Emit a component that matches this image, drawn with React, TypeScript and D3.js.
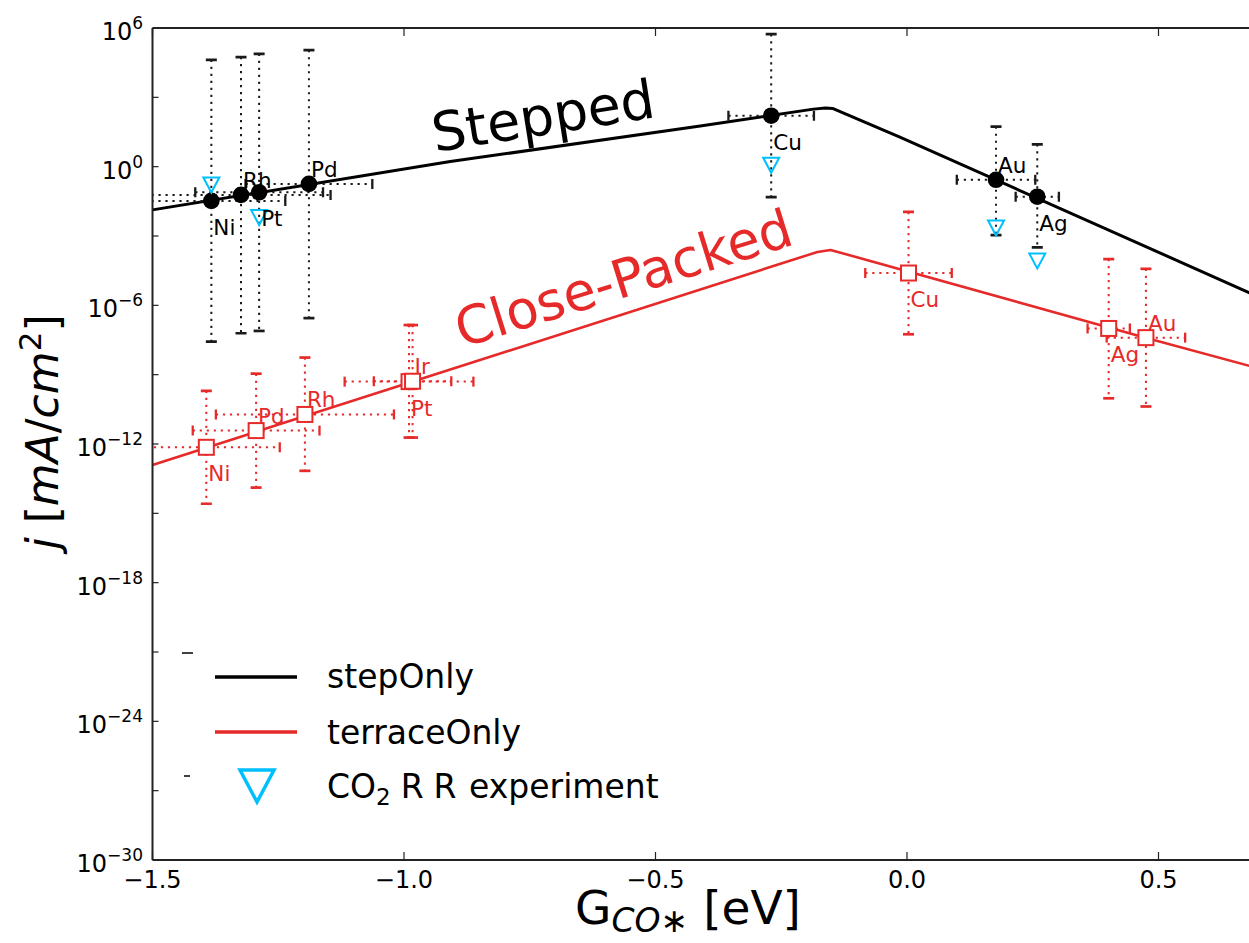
import React from 'react';
import * as d3 from 'd3';

// ---------- data ----------
// stepped (black circles)
const metalsStep = ['Ni', 'Rh', 'Pt', 'Pd', 'Cu', 'Au', 'Ag'];
const gStep = [-1.383, -1.324, -1.288, -1.189, -0.27, 0.177, 0.259];
const jStep = [3.3e-2, 6.0e-2, 7.8e-2, 1.8e-1, 1.6e2, 2.7e-1, 5.0e-2];
const jStepHigh = [4.2e4, 5.5e4, 7.6e4, 1.1e5, 5.4e5, 54, 9.3];
const jStepLow = [2.7e-8, 6.2e-8, 7.8e-8, 2.8e-7, 4.8e-2, 1.1e-3, 3.2e-4];
const gStepErr = [0.147, 0.178, 0.127, 0.126, 0.085, 0.078, 0.043];
const stepLabelSide = ['below', 'above', 'below', 'above', 'below', 'above', 'below'];

// close-packed (red squares)
const metalsTerrace = ['Ni', 'Pd', 'Rh', 'Pt', 'Ir', 'Cu', 'Ag', 'Au'];
const gTerrace = [-1.393, -1.294, -1.197, -0.99, -0.983, 0.003, 0.401, 0.475];
const jTerrace = [7.2e-13, 3.8e-12, 1.9e-11, 5.0e-10, 5.2e-10, 2.5e-5, 1.0e-7, 4.0e-8];
const jTerraceHigh = [2.0e-10, 1.1e-9, 5.5e-9, 1.4e-7, 1.4e-7, 1.1e-2, 1.0e-4, 3.8e-5];
const jTerraceLow = [2.6e-15, 1.3e-14, 6.9e-14, 1.9e-12, 1.9e-12, 5.6e-8, 9.5e-11, 4.2e-11];
const gTerraceErr = [0.146, 0.126, 0.177, 0.128, 0.077, 0.086, 0.042, 0.078];
const terraceLabelSide = ['below', 'above', 'above', 'below', 'above', 'below', 'below', 'above'];

// CO2RR experiment (blue triangles)
const metalsExp = ['Ni', 'Pt', 'Cu', 'Au', 'Ag'];
const gExp = [-1.383, -1.288, -0.27, 0.177, 0.259];
const jExp = [1.6e-1, 6.3e-3, 1.15, 2.2e-3, 8.3e-5];

// model lines
const stepLineG = [-1.5, -0.908, -0.411, -0.186, -0.162, -0.148, -0.013, 0.681];
const stepLineJ = [1.35e-2, 1.66, 57.5, 309, 347, 331, 18.6, 3.47e-6];
const terraceLineG = [-1.5, -0.178, -0.152, 0.476, 0.681];
const terraceLineJ = [1.24e-13, 2.04e-4, 2.5e-4, 3.9e-8, 2.4e-9];

// axes
const xTicks = [-1.5, -1.0, -0.5, 0.0, 0.5];
const xTickLabels = ['\u22121.5', '\u22121.0', '\u22120.5', '0.0', '0.5'];
const yTicks = [1e6, 1e0, 1e-6, 1e-12, 1e-18, 1e-24, 1e-30];
const yTickExps = ['6', '0', '\u22126', '\u221212', '\u221218', '\u221224', '\u221230'];
const yMinorTicks = [1e3, 1e-3, 1e-9, 1e-15, 1e-21, 1e-27];

const legendLabels = ['stepOnly', 'terraceOnly'];

const RED = '#e62a2a';
const BLUE = '#00bfff';
const FONT = 'DejaVu Sans, sans-serif';

export default function App() {
  const W = 1249;
  const H = 943;
  const left = 152.5;
  const top = 28;
  const bottom = 860;
  const x = d3.scaleLinear().domain([-1.5, 0.7]).range([left, left + 2.2 * 503]);
  const y = d3.scaleLog().domain([1e-30, 1e6]).range([bottom, top]);
  const line = d3
    .line<[number, number]>()
    .x((d) => x(d[0]))
    .y((d) => y(d[1]));

  const stepPts: [number, number][] = stepLineG.map((g, i) => [g, stepLineJ[i]]);
  const terracePts: [number, number][] = terraceLineG.map((g, i) => [g, terraceLineJ[i]]);

  const errorBars = (
    gs: number[],
    js: number[],
    his: number[],
    los: number[],
    ges: number[],
    color: string,
    key: string
  ) =>
    gs.map((g, i) => {
      const cx = x(g);
      const cy = y(js[i]);
      const yh = y(his[i]);
      const yl = y(los[i]);
      const xl = x(g - ges[i]);
      const xr = x(g + ges[i]);
      return (
        <g key={key + i}>
          <line x1={cx} x2={cx} y1={yh} y2={yl} stroke={color} strokeWidth={2} strokeDasharray="2.2 4.8" />
          <line x1={xl} x2={xr} y1={cy} y2={cy} stroke={color} strokeWidth={2} strokeDasharray="2.2 4.8" />
          <line x1={cx - 5.5} x2={cx + 5.5} y1={yh} y2={yh} stroke={color} strokeWidth={2.7} />
          <line x1={cx - 5.5} x2={cx + 5.5} y1={yl} y2={yl} stroke={color} strokeWidth={2.7} />
          <line x1={xl} x2={xl} y1={cy - 5} y2={cy + 5} stroke={color} strokeWidth={2.3} />
          <line x1={xr} x2={xr} y1={cy - 5} y2={cy + 5} stroke={color} strokeWidth={2.3} />
        </g>
      );
    });

  const tri = (cx: number, cy: number, hw: number, hh: number) =>
    `M${cx - hw},${cy - hh}L${cx + hw},${cy - hh}L${cx},${cy + hh}Z`;

  const labelY = (cy: number, side: string) => (side === 'above' ? cy - 7 : cy + 34);

  return (
    <svg
      width={W}
      height={H}
      style={{ position: 'absolute', left: 0, top: 0, background: '#fff' }}
      fontFamily={FONT}
    >
      <defs>
        <clipPath id="plotClip">
          <rect x={left} y={top} width={W - left + 20} height={bottom - top} />
        </clipPath>
      </defs>
      <rect x={0} y={0} width={W} height={H} fill="#fff" />

      <g clipPath="url(#plotClip)">
        {/* model lines */}
        <path d={line(stepPts) || ''} fill="none" stroke="#000" strokeWidth={3} strokeLinejoin="round" />
        <path d={line(terracePts) || ''} fill="none" stroke={RED} strokeWidth={2.6} strokeLinejoin="round" />

        {/* error bars */}
        {errorBars(gStep, jStep, jStepHigh, jStepLow, gStepErr, '#1a1a1a', 's')}
        {errorBars(gTerrace, jTerrace, jTerraceHigh, jTerraceLow, gTerraceErr, RED, 't')}

        {/* markers */}
        {gStep.map((g, i) => (
          <circle key={'c' + i} cx={x(g)} cy={y(jStep[i])} r={8.3} fill="#000" />
        ))}
        {gTerrace.map((g, i) => (
          <rect
            key={'r' + i}
            x={x(g) - 7.5}
            y={y(jTerrace[i]) - 7.5}
            width={15}
            height={15}
            fill="#fff"
            stroke={RED}
            strokeWidth={2}
          />
        ))}
        {gExp.map((g, i) => (
          <path
            key={'e' + i}
            d={tri(x(g), y(jExp[i]), 8, 7.5)}
            fill="none"
            stroke={BLUE}
            strokeWidth={2}
            strokeLinejoin="miter"
          />
        ))}

        {/* point labels */}
        {metalsStep.map((m, i) => (
          <text key={'ls' + i} x={x(gStep[i]) + 2} y={labelY(y(jStep[i]), stepLabelSide[i])} fontSize={21.5} fill="#000">
            {m}
          </text>
        ))}
        {metalsTerrace.map((m, i) => (
          <text
            key={'lt' + i}
            x={x(gTerrace[i]) + 2}
            y={labelY(y(jTerrace[i]), terraceLabelSide[i])}
            fontSize={21.5}
            fill={RED}
          >
            {m}
          </text>
        ))}

        {/* region labels */}
        <text x={435} y={152} fontSize={54} fill="#000" transform="rotate(-9 435 152)">
          Stepped
        </text>
        <text x={462} y={348} fontSize={53} fill={RED} transform="rotate(-17.3 462 348)">
          Close-Packed
        </text>
      </g>

      {/* axes frame */}
      <line x1={left} x2={left} y1={top} y2={bottom} stroke="#222" strokeWidth={2} />
      <line x1={left} x2={W} y1={bottom} y2={bottom} stroke="#222" strokeWidth={2} />
      <line x1={left} x2={W} y1={top} y2={top} stroke="#222" strokeWidth={2} />

      {/* x ticks */}
      {xTicks.map((t, i) => (
        <g key={'xt' + i}>
          <line x1={x(t)} x2={x(t)} y1={bottom} y2={bottom - 8} stroke="#222" strokeWidth={1.2} />
          <line x1={x(t)} x2={x(t)} y1={top} y2={top + 8} stroke="#222" strokeWidth={1.2} />
          <text x={x(t)} y={bottom + 28} fontSize={24} textAnchor="middle" fill="#000">
            {xTickLabels[i]}
          </text>
        </g>
      ))}

      {/* y ticks */}
      {yTicks.map((t, i) => (
        <g key={'yt' + i}>
          <line x1={left} x2={left + 6} y1={y(t)} y2={y(t)} stroke="#222" strokeWidth={1.2} />
          <text x={143} y={y(t) + 12} fontSize={24} textAnchor="end" fill="#000">
            10
            <tspan fontSize={17} dy={-11}>
              {yTickExps[i]}
            </tspan>
          </text>
        </g>
      ))}
      {yMinorTicks.map((t, i) => (
        <line key={'ym' + i} x1={left} x2={left + 6} y1={y(t)} y2={y(t)} stroke="#222" strokeWidth={1.2} />
      ))}

      {/* axis labels */}
      <text transform="translate(58,432) rotate(-90)" textAnchor="middle" fontSize={44} fill="#000">
        <tspan fontStyle="italic">j</tspan>
        <tspan> [</tspan>
        <tspan fontStyle="italic">mA</tspan>
        <tspan>/</tspan>
        <tspan fontStyle="italic">cm</tspan>
        <tspan fontSize={31} dy={-17}>2</tspan>
        <tspan dy={17}>]</tspan>
      </text>
      <text x={688} y={924} textAnchor="middle" fontSize={47} fill="#000">
        <tspan>G</tspan>
        <tspan fontSize={33} fontStyle="italic" dy={8}>CO{'\u2217'}</tspan>
        <tspan dy={-8}> [eV]</tspan>
      </text>

      {/* legend */}
      <line x1={182} x2={193} y1={653} y2={653} stroke="#000" strokeWidth={1.5} />
      <line x1={184} x2={190} y1={776} y2={776} stroke="#000" strokeWidth={1.5} />
      <line x1={215} x2={297} y1={677} y2={677} stroke="#000" strokeWidth={3.5} />
      <line x1={215} x2={297} y1={732} y2={732} stroke={RED} strokeWidth={3.5} />
      <path d={tri(257, 786, 17, 16)} fill="none" stroke={BLUE} strokeWidth={3.5} />
      <text x={327} y={688} fontSize={33} fill="#000">{legendLabels[0]}</text>
      <text x={327} y={744} fontSize={33} fill="#000">{legendLabels[1]}</text>
      <text x={327} y={798} fontSize={33} fill="#000">
        CO<tspan fontSize={23} dy={7}>2</tspan>
        <tspan dy={-7} dx={10}>R</tspan>
        <tspan dx={10}>R</tspan>
        <tspan dx={14}>experiment</tspan>
      </text>
    </svg>
  );
}
